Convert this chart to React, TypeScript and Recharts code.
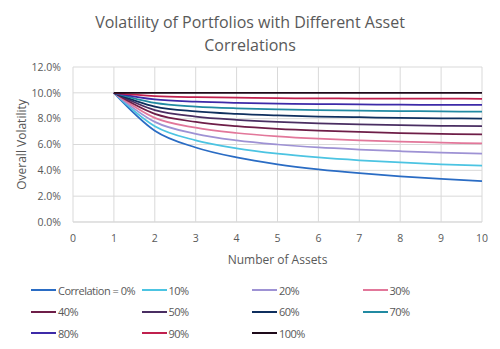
import React from 'react';
import { LineChart, Line, XAxis, YAxis, CartesianGrid, Label } from 'recharts';

const assets = [1, 2, 3, 4, 5, 6, 7, 8, 9, 10];
const xTicks = [0, 1, 2, 3, 4, 5, 6, 7, 8, 9, 10];
const yTicks = [0, 2, 4, 6, 8, 10, 12];

// overall volatility (%) per correlation
const corr0 = [10, 7.07, 5.77, 5.0, 4.47, 4.08, 3.78, 3.54, 3.33, 3.16];
const corr10 = [10, 7.42, 6.32, 5.7, 5.29, 5.0, 4.78, 4.61, 4.47, 4.36];
const corr20 = [10, 7.75, 6.83, 6.32, 6.0, 5.77, 5.61, 5.48, 5.37, 5.29];
const corr30 = [10, 8.06, 7.3, 6.89, 6.63, 6.45, 6.32, 6.22, 6.15, 6.08];
const corr40 = [10, 8.37, 7.75, 7.42, 7.21, 7.07, 6.97, 6.89, 6.83, 6.78];
const corr50 = [10, 8.66, 8.16, 7.91, 7.75, 7.64, 7.56, 7.5, 7.45, 7.42];
const corr60 = [10, 8.94, 8.56, 8.37, 8.25, 8.16, 8.11, 8.06, 8.03, 8.0];
const corr70 = [10, 9.22, 8.94, 8.8, 8.72, 8.66, 8.62, 8.59, 8.56, 8.54];
const corr80 = [10, 9.49, 9.31, 9.22, 9.17, 9.13, 9.1, 9.08, 9.07, 9.06];
const corr90 = [10, 9.75, 9.66, 9.62, 9.59, 9.57, 9.56, 9.55, 9.55, 9.54];
const corr100 = [10, 10, 10, 10, 10, 10, 10, 10, 10, 10];

const seriesNames = ['Correlation = 0%', '10%', '20%', '30%', '40%', '50%', '60%', '70%', '80%', '90%', '100%'];
const seriesValues = [corr0, corr10, corr20, corr30, corr40, corr50, corr60, corr70, corr80, corr90, corr100];
const seriesColors = ['#2a6cc4', '#4cc4e2', '#9e92d4', '#e2779a', '#6e1e48', '#4a2e62', '#0f2f5e', '#218aa2', '#3d2aa8', '#c0204e', '#1e0a1a'];

const data = assets.map((n, i) => {
  const row: Record<string, number> = { n };
  seriesValues.forEach((vals, k) => {
    row['s' + k] = vals[i];
  });
  return row;
});

const font = '"Open Sans", "Noto Sans", sans-serif';
const textColor = '#595959';

// legend drawn as an overlay so it doesn't eat into the plot height
const LegendGrid = () => (
  <div style={{ position: 'absolute', left: 0, top: 282, width: 500, height: 70, fontFamily: font, fontSize: 11, letterSpacing: -0.5, color: textColor }}>
    {seriesNames.map((name, k) => {
      const col = k % 4;
      const row = Math.floor(k / 4);
      return (
        <div
          key={name}
          style={{ position: 'absolute', left: 31 + col * 110.5, top: row * 21.5, display: 'flex', alignItems: 'center', height: 16, whiteSpace: 'nowrap' }}
        >
          <span style={{ display: 'inline-block', width: 25, height: 2, background: seriesColors[k], marginRight: 2 }} />
          <span>{name}</span>
        </div>
      );
    })}
  </div>
);

export default function App() {
  return (
    <div style={{ position: 'absolute', left: 0, top: 0, width: 500, height: 349, background: '#fff', fontFamily: font }}>
      <div style={{ position: 'absolute', left: 0, top: 11, width: 500, textAlign: 'center', fontSize: 16, lineHeight: '23px', color: textColor }}>
        Volatility of Portfolios with Different Asset
        <br />
        Correlations
      </div>
      <LineChart width={500} height={349} data={data} margin={{ top: 67, right: 18, bottom: 127 - 45, left: 8 }}>
        <CartesianGrid stroke="#d9d9d9" vertical horizontal />
        <XAxis
          dataKey="n"
          type="number"
          domain={[0, 10]}
          ticks={xTicks}
          axisLine={{ stroke: '#d9d9d9' }}
          tickLine={false}
          tick={{ fill: textColor, fontSize: 10.5 }}
          tickMargin={7}
          height={45}
        >
          <Label value="Number of Assets" position="insideBottom" offset={3} fill={textColor} fontSize={12} />
        </XAxis>
        <YAxis
          type="number"
          domain={[0, 12]}
          ticks={yTicks}
          axisLine={false}
          tickLine={false}
          tick={{ fill: textColor, fontSize: 10.5 }}
          tickFormatter={(v: number) => v.toFixed(1) + '%'}
          width={65}
          tickMargin={6}
        >
          <Label value="Overall Volatility" angle={-90} position="insideLeft" offset={14} style={{ textAnchor: 'middle' }} fill={textColor} fontSize={12} />
        </YAxis>
        {seriesValues.map((_, k) => (
          <Line
            key={k}
            type="monotone"
            dataKey={'s' + k}
            name={seriesNames[k]}
            stroke={seriesColors[k]}
            strokeWidth={1.75}
            dot={false}
            isAnimationActive={false}
          />
        ))}
      </LineChart>
      <LegendGrid />
    </div>
  );
}
